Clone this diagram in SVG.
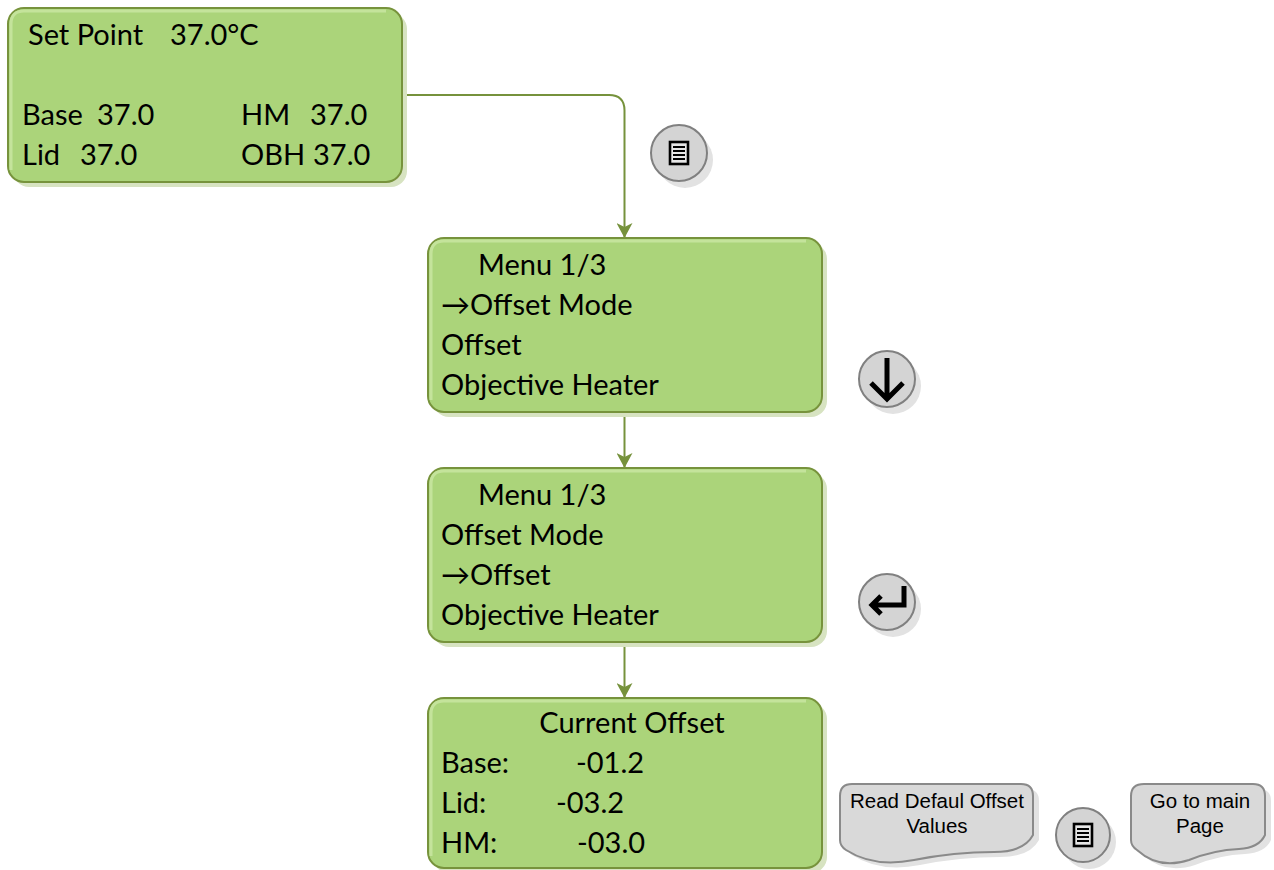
<svg xmlns="http://www.w3.org/2000/svg" width="1274" height="870" viewBox="0 0 1274 870">
<style>
.box{fill:#abd47a;stroke:#77933c;stroke-width:2}
.hl{fill:none;stroke:#c4e39b;stroke-width:3}
.shd{fill:#d7e3c1}
.t{font-family:Lato,"Noto Sans",sans-serif;font-size:29px;fill:#000}
.btn{fill:#d4d4d4;stroke:#808080;stroke-width:2}
.bshd{fill:#e2e2e2}
.ico{fill:none;stroke:#000;stroke-width:5}
.doc{fill:#d9d9d9;stroke:#8a8a8a;stroke-width:2}
.dt{font-family:"Liberation Sans",Arial,sans-serif;font-size:20.5px;fill:#000;text-anchor:middle}
.con{fill:none;stroke:#76923c;stroke-width:2}
</style>
<defs>
<marker id="ah" markerUnits="userSpaceOnUse" markerWidth="15" markerHeight="16" viewBox="0 0 15 16" refX="15" refY="8" orient="auto">
<path d="M0,0 L15,8 L0,16 L4,8 Z" fill="#76923c"/>
</marker>
</defs>
<g id="connectors">
<path class="con" d="M402,95 H609 Q624.5,95 624.5,110.5 V238" marker-end="url(#ah)"/>
<path class="con" d="M624.5,412 V468" marker-end="url(#ah)"/>
<path class="con" d="M624.5,642 V698" marker-end="url(#ah)"/>
</g>
<g id="node-setpoint">
<rect class="shd" x="13" y="13" width="394" height="174" rx="16"/>
<rect class="box" x="8" y="8" width="394" height="174" rx="16"/>
<path class="hl" d="M11,170 V24 Q11,11 24,11 H386"/>
<text class="t" x="28" y="45">Set Point</text>
<text class="t" x="170" y="45">37.0°C</text>
<text class="t" x="22" y="125">Base</text>
<text class="t" x="97" y="125">37.0</text>
<text class="t" x="241" y="125">HM</text>
<text class="t" x="310" y="125">37.0</text>
<text class="t" x="22" y="165">Lid</text>
<text class="t" x="80" y="165">37.0</text>
<text class="t" x="241" y="165">OBH</text>
<text class="t" x="313" y="165">37.0</text>
</g>
<g id="node-menu1">
<rect class="shd" x="433" y="243" width="394" height="174" rx="16"/>
<rect class="box" x="428" y="238" width="394" height="174" rx="16"/>
<path class="hl" d="M431,400 V254 Q431,241 444,241 H806"/>
<text class="t" x="478" y="275">Menu 1/3</text>
<text class="t" x="441" y="315">→Offset Mode</text>
<text class="t" x="441" y="355">Offset</text>
<text class="t" x="441" y="395">Objective Heater</text>
</g>
<g id="node-menu2">
<rect class="shd" x="433" y="473" width="394" height="174" rx="16"/>
<rect class="box" x="428" y="468" width="394" height="174" rx="16"/>
<path class="hl" d="M431,630 V484 Q431,471 444,471 H806"/>
<text class="t" x="478" y="505">Menu 1/3</text>
<text class="t" x="441" y="545">Offset Mode</text>
<text class="t" x="441" y="585">→Offset</text>
<text class="t" x="441" y="625">Objective Heater</text>
</g>
<g id="node-offset">
<rect class="shd" x="433" y="703" width="394" height="170" rx="16"/>
<rect class="box" x="428" y="698" width="394" height="170" rx="16"/>
<path class="hl" d="M431,856 V714 Q431,701 444,701 H806"/>
<text class="t" x="632" y="733" text-anchor="middle">Current Offset</text>
<text class="t" x="441" y="773">Base:</text>
<text class="t" x="576" y="773">-01.2</text>
<text class="t" x="441" y="813">Lid:</text>
<text class="t" x="556" y="813">-03.2</text>
<text class="t" x="441" y="853">HM:</text>
<text class="t" x="577" y="853">-03.0</text>
</g>
<g id="btn-menu-top">
<circle class="bshd" cx="685" cy="160" r="28"/>
<circle class="btn" cx="679" cy="153" r="28"/>
<rect x="670" y="142" width="18" height="22" fill="#e6e6e6" stroke="#000" stroke-width="2.6"/>
<path d="M673,147 H685 M673,151 H685 M673,155 H685 M673,159 H685" stroke="#000" stroke-width="2.2"/>
</g>
<g id="btn-down">
<circle class="bshd" cx="893" cy="386" r="28"/>
<circle class="btn" cx="887" cy="379" r="28"/>
<path class="ico" d="M887,358 V398 M871,383 L887,399 L903,383"/>
</g>
<g id="btn-enter">
<circle class="bshd" cx="893" cy="609" r="28"/>
<circle class="btn" cx="887" cy="602" r="28"/>
<path class="ico" d="M904,586 V605 H872 M881,596 L872,605 L881,614"/>
</g>
<g id="read-default">
<path class="bshd" d="M858,789 H1027 Q1039,789 1039,801 V840 Q1030,857 1000,857 Q960,857 920,865 Q880,873 852,855 Q846,851 846,845 V801 Q846,789 858,789 Z"/>
<path class="doc" d="M852,784 H1021 Q1033,784 1033,796 V835 Q1024,852 994,852 Q954,852 914,860 Q874,868 846,850 Q840,846 840,840 V796 Q840,784 852,784 Z"/>
<text class="dt" x="937" y="808">Read Defaul Offset</text>
<text class="dt" x="937" y="833">Values</text>
</g>
<g id="btn-menu-bottom">
<circle class="bshd" cx="1089" cy="842" r="27"/>
<circle class="btn" cx="1083" cy="835" r="27"/>
<rect x="1074" y="824" width="18" height="22" fill="#e6e6e6" stroke="#000" stroke-width="2.6"/>
<path d="M1077,829 H1089 M1077,833 H1089 M1077,837 H1089 M1077,841 H1089" stroke="#000" stroke-width="2.2"/>
</g>
<g id="go-main">
<path class="bshd" d="M1150,789 H1259 Q1271,789 1271,801 V840 Q1265,853 1245,854 Q1220,855 1195,865 Q1165,875 1143,855 Q1137,851 1137,845 V801 Q1137,789 1150,789 Z"/>
<path class="doc" d="M1144,784 H1253 Q1265,784 1265,796 V835 Q1259,848 1239,849 Q1214,850 1189,860 Q1159,870 1137,850 Q1131,846 1131,840 V796 Q1131,784 1144,784 Z"/>
<text class="dt" x="1200" y="808">Go to main</text>
<text class="dt" x="1200" y="833">Page</text>
</g>
</svg>
